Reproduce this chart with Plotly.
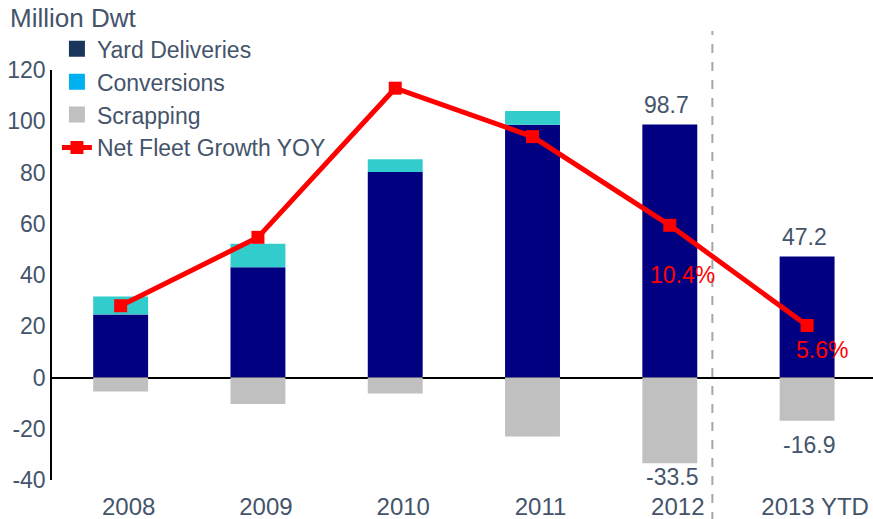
import plotly.graph_objects as go

categories = ["2008", "2009", "2010", "2011", "2012", "2013 YTD"]
yard_deliveries = [24.6, 43.0, 80.2, 98.6, 98.7, 47.2]
conversions = [7.0, 9.2, 5.0, 5.4, 0.0, 0.0]
scrapping = [-5.5, -10.3, -6.2, -23.0, -33.5, -16.9]
net_fleet_growth = [28.0, 54.7, 112.9, 94.0, 59.4, 20.3]

y_tick_values = [-40, -20, 0, 20, 40, 60, 80, 100, 120]
y_tick_labels = ["-40", "-20", "0", "20", "40", "60", "80", "100", "120"]

growth_labels = {"2012": "10.4%", "2013 YTD": "5.6%"}
delivery_labels = {"2012": "98.7", "2013 YTD": "47.2"}
scrap_labels = {"2012": "-33.5", "2013 YTD": "-16.9"}

TEXT = "#44546A"
FONT = "Liberation Sans, Arial, sans-serif"

fig = go.Figure()

# real bars (legend hidden; legend uses its own swatch colours as in the reference)
fig.add_trace(go.Bar(x=categories, y=yard_deliveries, marker_color="#000080",
                     marker_line_width=0, showlegend=False, name="Yard Deliveries"))
fig.add_trace(go.Bar(x=categories, y=conversions, marker_color="#33CCCC",
                     marker_line_width=0, showlegend=False, name="Conversions"))
fig.add_trace(go.Bar(x=categories, y=scrapping, marker_color="#C0C0C0",
                     marker_line_width=0, showlegend=False, name="Scrapping"))

# legend entries
for name, col in [("Yard Deliveries", "#1B365D"), ("Conversions", "#00B0F0"),
                  ("Scrapping", "#C0C0C0")]:
    fig.add_trace(go.Scatter(x=[None], y=[None], name=name, mode="markers",
                             marker=dict(symbol="square", size=16, color=col),
                             showlegend=True))

fig.add_trace(go.Scatter(x=categories, y=net_fleet_growth, mode="lines+markers",
                         name="Net Fleet Growth YOY",
                         line=dict(color="#FF0000", width=5),
                         marker=dict(symbol="square", size=13, color="#FF0000")))

annotations = []
for c, t in delivery_labels.items():
    i = categories.index(c)
    annotations.append(dict(x=i, y=yard_deliveries[i] + conversions[i], text=t,
                            showarrow=False, yshift=20, xshift=-3,
                            font=dict(size=23, color=TEXT, family=FONT)))
scrap_shift = {"2012": -14, "2013 YTD": -24}
for c, t in scrap_labels.items():
    i = categories.index(c)
    annotations.append(dict(x=i, y=scrapping[i], text=t, showarrow=False,
                            yshift=scrap_shift[c], xshift=2,
                            font=dict(size=23, color=TEXT, family=FONT)))
growth_off = {"2012": (13, -50), "2013 YTD": (15, -25)}
for c, t in growth_labels.items():
    i = categories.index(c)
    dx, dy = growth_off[c]
    annotations.append(dict(x=i, y=net_fleet_growth[i], text=t, showarrow=False,
                            xshift=dx, yshift=dy,
                            font=dict(size=23, color="#FF0000", family=FONT)))

fig.update_layout(
    width=873, height=519,
    margin=dict(l=52, r=0, t=70, b=39),
    paper_bgcolor="white", plot_bgcolor="white",
    barmode="relative", bargap=0.6,
    font=dict(family=FONT, color=TEXT, size=23),
    title=dict(text="Million Dwt", x=10 / 873, xref="container", xanchor="left",
               y=1 - 18 / 519, yref="container", yanchor="middle",
               font=dict(size=26, color=TEXT, family=FONT)),
    legend=dict(x=0.006, y=1.104, xanchor="left", yanchor="top",
                bgcolor="rgba(0,0,0,0)", font=dict(size=23, color=TEXT),
                tracegroupgap=0),
    annotations=annotations,
    shapes=[dict(type="line", xref="x", yref="paper", x0=4.31, x1=4.31,
                 y0=-0.1, y1=1.095, line=dict(color="#A6A6A6", width=2, dash="dash"))],
    showlegend=True,
)
fig.update_xaxes(showline=False, showgrid=False, zeroline=False, ticks="",
                 range=[-0.5, 5.48], automargin=False, ticklabelshift=8,
                 ticklabelstandoff=10, tickfont=dict(size=24, color=TEXT))
fig.update_yaxes(range=[-40, 120], tickvals=y_tick_values, ticktext=y_tick_labels,
                 showgrid=False, showline=True,
                 linecolor="black", linewidth=1.5, zeroline=True,
                 zerolinecolor="black", zerolinewidth=1.5, ticks="",
                 automargin=False, tickfont=dict(size=23, color=TEXT))

fig.write_html("out.html", config={"displayModeBar": False},
               post_script="document.body.style.margin='0';document.body.style.overflow='hidden';")
